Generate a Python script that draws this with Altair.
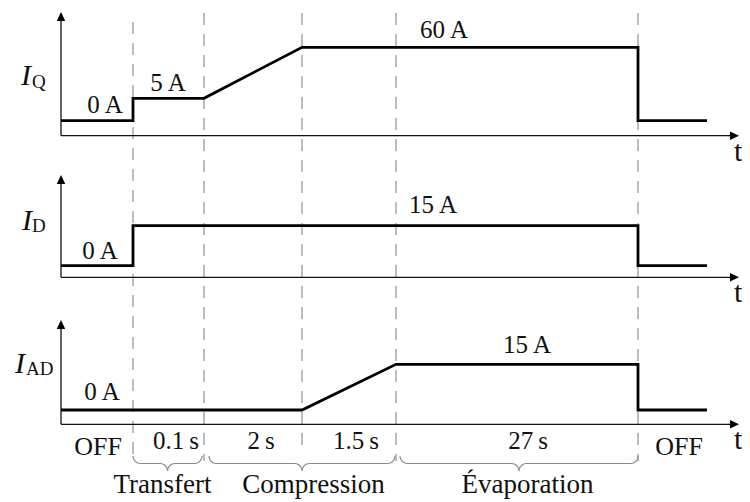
import altair as alt
import pandas as pd
import numpy as np

FONT = "Liberation Serif"
INK = "#111111"

# ---------------- schematic timing diagram data ----------------
# time axis is schematic (not to scale); y-axis of every panel at t = 0
phase_bounds = [72, 143, 241, 335, 577]
dash_top = [480, 489, 489, 489, 489]
dash_bottom = [41, 41, 54, 41, 41]
t_axis_end = 678

panel_sub = ["Q", "D", "AD"]
axis_base = [366.3, 224.7, 77.7]      # vertical position of each panel's t-axis
axis_height = [123.7, 102.3, 104.3]   # length of each panel's vertical arrow

# signal shapes (schematic level above the panel's t-axis)
iq_t = [0, 72, 72, 143, 241, 577, 577, 646]
iq_lv = [15, 15, 37.4, 37.4, 88.4, 88.4, 15, 15]
id_t = [0, 72, 72, 577, 577, 646]
id_lv = [11.6, 11.6, 51.6, 51.6, 11.6, 11.6]
iad_t = [0, 241, 335, 577, 577, 646]
iad_lv = [14.3, 14.3, 60, 60, 14.3, 14.3]

# current value labels
val_text = ["0\u2009A", "5 A", "60\u2009A", "0\u2009A", "15\u2009A", "0\u2009A", "15\u2009A"]
val_panel = [0, 0, 0, 1, 1, 2, 2]
val_t = [44, 107, 383, 39, 372, 41, 466]
val_rel = [22.7, 44.7, 97.7, 18.3, 64.3, 24.3, 71.3]

# phase durations under the last axis
dur_text = ["0.1\u2009s", "2\u2009s", "1.5\u2009s", "27\u2009s"]
dur_t = [115, 200, 295, 467]
off_text = ["OFF", "OFF"]
off_t = [37, 618]

# braces and phase names
brace_from = [72, 148, 339]
brace_to = [141, 334, 577]
phase_names = ["Transfert", "Compression", "Évaporation"]
phase_t = [101.5, 252.5, 466.5]

# ---------------- tables ----------------
rows = []
for p, (ts, lv) in enumerate([(iq_t, iq_lv), (id_t, id_lv), (iad_t, iad_lv)]):
    for i, (t, l) in enumerate(zip(ts, lv)):
        rows.append({"panel": p, "order": i, "t": t, "y": axis_base[p] + l})
sig = pd.DataFrame(rows)

axes_h = pd.DataFrame({"t": [0] * 3, "t2": [t_axis_end - 5] * 3, "y": axis_base})
axes_v = pd.DataFrame({"t": [0] * 3, "y": axis_base,
                       "y2": [b + h - 5 for b, h in zip(axis_base, axis_height)]})
arrow_r = pd.DataFrame({"t": [t_axis_end] * 3, "y": axis_base})
arrow_u = pd.DataFrame({"t": [0] * 3, "y": [b + h for b, h in zip(axis_base, axis_height)]})
dashes = pd.DataFrame({"t": phase_bounds, "y": dash_top, "y2": dash_bottom})

vals = pd.DataFrame({"text": val_text, "t": val_t,
                     "y": [axis_base[p] + r for p, r in zip(val_panel, val_rel)]})
durs = pd.DataFrame({"text": dur_text, "t": dur_t, "y": [53] * 4})
offs = pd.DataFrame({"text": off_text, "t": off_t, "y": [47.5] * 2})
names = pd.DataFrame({"text": phase_names, "t": phase_t, "y": [9] * 3})

ilab = pd.DataFrame({"text": ["I", "I", "I"], "t": [-40, -39, -46],
                     "y": [417, 272, 129]})
slab = pd.DataFrame({"text": panel_sub, "t": [-29, -29, -35],
                     "y": [414.5, 270.5, 127]})
tlab = pd.DataFrame({"text": ["t"] * 3, "t": [673] * 3, "y": [b - 25 for b in axis_base]})

# brace outlines built from the brace ranges
top, r = 46.0, 7.5
brows = []
ang = np.linspace(0, np.pi / 2, 7)
for k, (a, b) in enumerate(zip(brace_from, brace_to)):
    c = (a + b) / 2
    pts = []
    pts += [(a + r - r * np.cos(q), top - r * np.sin(q)) for q in ang]
    pts += [(c - r + r * np.sin(q), top - 2 * r + r * np.cos(q)) for q in ang]
    pts += [(c + r - r * np.cos(q), top - 2 * r + r * np.sin(q)) for q in ang[1:]]
    pts += [(b - r + r * np.sin(q), top - r * np.cos(q)) for q in ang]
    for i, (x, y) in enumerate(pts):
        brows.append({"brace": k, "order": i, "t": x, "y": y})
braces = pd.DataFrame(brows)

# ---------------- chart ----------------
xs = alt.Scale(domain=[-53, 681], nice=False, zero=False)
ys = alt.Scale(domain=[0, 494], nice=False, zero=False)


def X(f="t"):
    return alt.X(f, type="quantitative", scale=xs, axis=None)


def Y(f="y"):
    return alt.Y(f, type="quantitative", scale=ys, axis=None)


dash_layer = alt.Chart(dashes).mark_rule(
    color="#9a9a9a", strokeWidth=1.3, strokeDash=[12, 9]
).encode(x=X(), y=Y(), y2="y2")

brace_layer = alt.Chart(braces).mark_line(
    color="#8a8a8a", strokeWidth=1.2
).encode(x=X(), y=Y(), detail="brace:N", order="order:Q")

axh_layer = alt.Chart(axes_h).mark_rule(color=INK, strokeWidth=1.3).encode(
    x=X(), x2="t2", y=Y())
axv_layer = alt.Chart(axes_v).mark_rule(color=INK, strokeWidth=1.3).encode(
    x=X(), y=Y(), y2="y2")

arr_r_layer = alt.Chart(arrow_r).mark_point(
    shape="M0,0 L-1.8,-0.85 L-1.8,0.85 Z", filled=True, size=100,
    color="#000000", opacity=1, strokeWidth=0
).encode(x=X(), y=Y())
arr_u_layer = alt.Chart(arrow_u).mark_point(
    shape="M0,0 L-0.85,1.8 L0.85,1.8 Z", filled=True, size=100,
    color="#000000", opacity=1, strokeWidth=0
).encode(x=X(), y=Y())

sig_layer = alt.Chart(sig).mark_line(
    color="#000000", strokeWidth=2.8, strokeJoin="miter"
).encode(x=X(), y=Y(), detail="panel:N", order="order:Q")


def text_layer(df, size, align="center", style="normal"):
    return alt.Chart(df).mark_text(
        font=FONT, fontSize=size, align=align, baseline="alphabetic",
        fontStyle=style, color=INK
    ).encode(x=X(), y=Y(), text="text:N")


chart = alt.layer(
    dash_layer,
    brace_layer,
    axh_layer,
    axv_layer,
    arr_r_layer,
    arr_u_layer,
    sig_layer,
    text_layer(vals, 25),
    text_layer(durs, 25),
    text_layer(offs, 26),
    text_layer(names, 27),
    text_layer(ilab, 30, align="left", style="italic"),
    text_layer(slab, 19, align="left"),
    text_layer(tlab, 30, align="left"),
).properties(
    width=734, height=494,
    padding=0,
    autosize=alt.AutoSizeParams(type="none"),
    background="white",
).configure_view(strokeWidth=0)

chart.save("out.html", embed_options={"renderer": "svg", "actions": False})
